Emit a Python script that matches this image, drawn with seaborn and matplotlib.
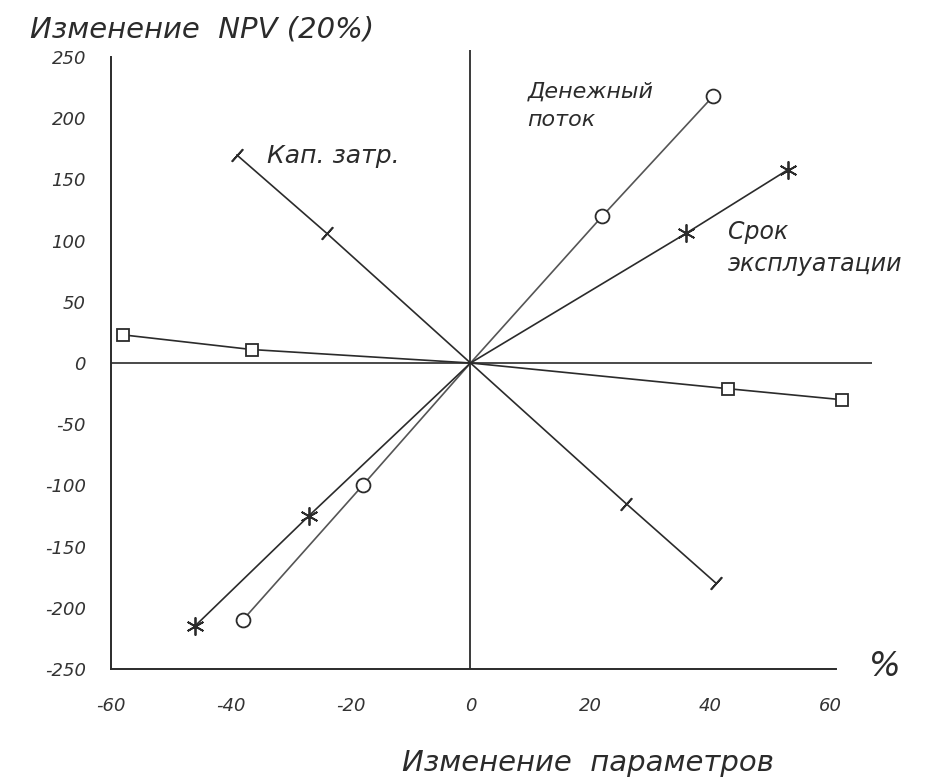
import matplotlib
matplotlib.use("Agg")
import matplotlib.pyplot as plt
import seaborn as sns
import pandas as pd

# ---- data ----
cash_x = [-38, -18, 0, 22, 40.5]
cash_y = [-210, -100, 0, 120, 218]

life_x = [-46, -27, 0, 36, 53]
life_y = [-215, -125, 0, 106, 158]

capex_x = [-39, -24, 0, 26, 41]
capex_y = [170, 106, 0, -115, -180]

rate_x = [-58, -36.5, 0, 43, 62]
rate_y = [23, 11, 0, -21, -30]

x_ticks = [-60, -40, -20, 0, 20, 40, 60]
y_ticks = [-250, -200, -150, -100, -50, 0, 50, 100, 150, 200, 250]

sns.set_theme(style="white")
plt.rcParams['font.family'] = ['DejaVu Sans']

ink = "#2b2b2b"
fig = plt.figure(figsize=(9.28, 7.82), dpi=100)
ax = fig.add_axes([0.1196, 0.1445, 0.820, 0.792])

marks = [0, 1, 3, 4]  # no marker drawn at the origin

def draw(xs, ys, color, **kw):
    df = pd.DataFrame({"x": xs, "y": ys})
    sns.lineplot(data=df, x="x", y="y", ax=ax, sort=False, estimator=None,
                 color=color, lw=1.2, markevery=marks, **kw)

draw(cash_x, cash_y, "#555555", marker="o", markersize=10, markerfacecolor="white",
     markeredgecolor=ink, markeredgewidth=1.3)
draw(life_x, life_y, ink, marker=(6, 2, 0), markersize=13,
     markeredgecolor=ink, markeredgewidth=1.3)
draw(capex_x, capex_y, ink, marker=(2, 2, -42), markersize=12,
     markeredgecolor=ink, markeredgewidth=1.3)
draw(rate_x, rate_y, ink, marker="s", markersize=8, markerfacecolor="white",
     markeredgecolor=ink, markeredgewidth=1.3)

ax.set_xlim(-60, 67)
ax.set_ylim(-250, 256)
ax.axhline(0, color=ink, lw=1.2, zorder=1)
ax.axvline(0, color=ink, lw=1.3, zorder=1)

for s in ["top", "right"]:
    ax.spines[s].set_visible(False)
for s in ["left", "bottom"]:
    ax.spines[s].set_color(ink)
    ax.spines[s].set_linewidth(1.4)
ax.spines["bottom"].set_bounds(-60, 61)
ax.spines["left"].set_bounds(-250, 250)

ax.set_xticks(x_ticks)
ax.set_yticks(y_ticks)
ax.set_xticklabels([str(v) for v in x_ticks], fontsize=13, color="#333333", style="italic")
ax.set_yticklabels([str(v) for v in y_ticks], fontsize=13, color="#333333", style="italic")
ax.tick_params(axis="both", direction="out", length=6, width=1.2, color=ink)
ax.tick_params(axis="x", pad=14)
ax.tick_params(axis="y", pad=12)
ax.set_xlabel("")
ax.set_ylabel("")

tkw = dict(color="#2b2b2b", style="italic")
ax.text(-34, 169, "Кап. затр.", fontsize=18, ha="left", va="center", **tkw)
ax.text(9.5, 210, "Денежный\nпоток", fontsize=16, ha="left", va="center", linespacing=1.5, **tkw)
ax.text(43, 94, "Срок\nэксплуатации", fontsize=17, ha="left", va="center", linespacing=1.4, **tkw)

fig.text(0.032, 0.962, "Изменение  NPV (20%)", fontsize=21, ha="left", va="center", **tkw)
fig.text(0.634, 0.024, "Изменение  параметров", fontsize=21, ha="center", va="center", **tkw)
fig.text(0.953, 0.148, "%", fontsize=24, ha="center", va="center", **tkw)

fig.savefig("out.png", dpi=100, facecolor="white")
